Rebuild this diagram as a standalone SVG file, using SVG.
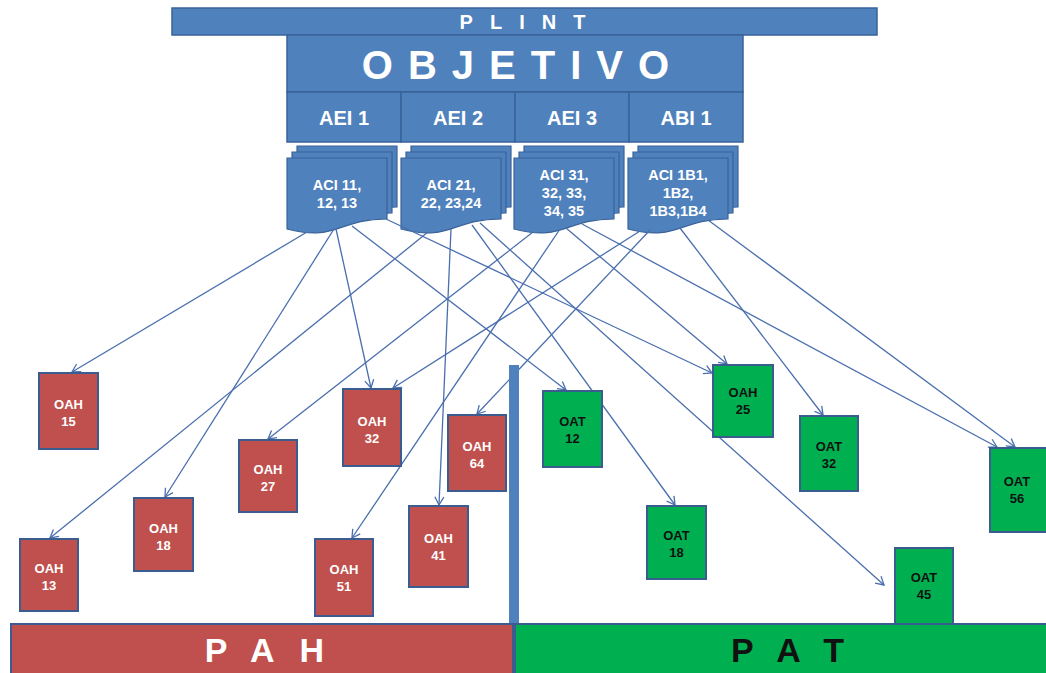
<svg xmlns="http://www.w3.org/2000/svg" width="1046" height="673" viewBox="0 0 1046 673">
<defs>
<style>
.hdr{fill:#4F81BD;stroke:#3A6399;stroke-width:1.5}
.doc{fill:#4F81BD;stroke:#3A6399;stroke-width:1.2}
.wt{font-family:"Liberation Sans",Arial,sans-serif;font-weight:bold;fill:#FFFFFF;text-anchor:middle}
.bk{font-family:"Liberation Sans",Arial,sans-serif;font-weight:bold;fill:#111111;text-anchor:middle}
.red{fill:#C0504D;stroke:#3B5C8E;stroke-width:2}
.grn{fill:#00B050;stroke:#3B5C8E;stroke-width:2}
.lbl{font-size:13px}
.doct{font-size:14.5px}
.con line{stroke:#4A6FAE;stroke-width:1.3;marker-end:url(#ah)}
</style>
<marker id="ah" markerWidth="12" markerHeight="12" refX="0" refY="0" orient="auto" markerUnits="userSpaceOnUse" viewBox="-10 -6 12 12">
<path d="M-8,-4.5 L0,0 L-8,4.5" fill="none" stroke="#4A6FAE" stroke-width="1.3"/>
</marker>
<path id="docshape" d="M0,0 H100 V61 C50,61 50,84 0,71 Z"/>
</defs>

<g id="plint">
<rect class="hdr" x="172" y="8" width="705" height="27"/>
<text class="wt" x="531" y="29" font-size="20" letter-spacing="17">PLINT</text>
</g>
<g id="objetivo">
<rect class="hdr" x="287" y="35" width="456" height="57"/>
<text class="wt" x="523" y="79" font-size="40" letter-spacing="15">OBJETIVO</text>
</g>
<g id="aei1"><rect class="hdr" x="287" y="92" width="114" height="50"/><text class="wt" x="344" y="125" font-size="20">AEI 1</text></g>
<g id="aei2"><rect class="hdr" x="401" y="92" width="114" height="50"/><text class="wt" x="458" y="125" font-size="20">AEI 2</text></g>
<g id="aei3"><rect class="hdr" x="515" y="92" width="114" height="50"/><text class="wt" x="572" y="125" font-size="20">AEI 3</text></g>
<g id="abi1"><rect class="hdr" x="629" y="92" width="114" height="50"/><text class="wt" x="686" y="125" font-size="20">ABI 1</text></g>

<g id="aci1">
<use href="#docshape" class="doc" x="297" y="146"/>
<use href="#docshape" class="doc" x="292" y="152"/>
<use href="#docshape" class="doc" x="287" y="158"/>
<text class="wt doct" x="337" y="190">ACI 11,</text>
<text class="wt doct" x="337" y="208">12, 13</text>
</g>
<g id="aci2">
<use href="#docshape" class="doc" x="411" y="146"/>
<use href="#docshape" class="doc" x="406" y="152"/>
<use href="#docshape" class="doc" x="401" y="158"/>
<text class="wt doct" x="451" y="190">ACI 21,</text>
<text class="wt doct" x="451" y="208">22, 23,24</text>
</g>
<g id="aci3">
<use href="#docshape" class="doc" x="524" y="146"/>
<use href="#docshape" class="doc" x="519" y="152"/>
<use href="#docshape" class="doc" x="514" y="158"/>
<text class="wt doct" x="564" y="180">ACI 31,</text>
<text class="wt doct" x="564" y="198">32, 33,</text>
<text class="wt doct" x="564" y="216">34, 35</text>
</g>
<g id="aci4">
<use href="#docshape" class="doc" x="638" y="146"/>
<use href="#docshape" class="doc" x="633" y="152"/>
<use href="#docshape" class="doc" x="628" y="158"/>
<text class="wt doct" x="678" y="180">ACI 1B1,</text>
<text class="wt doct" x="678" y="198">1B2,</text>
<text class="wt doct" x="678" y="216">1B3,1B4</text>
</g>

<g id="connectors" class="con">
<line x1="307" y1="232" x2="72" y2="372"/>
<line x1="334" y1="229" x2="165" y2="497"/>
<line x1="336" y1="229" x2="371" y2="388"/>
<line x1="352" y1="226" x2="566" y2="390"/>
<line x1="386" y1="219" x2="712" y2="373"/>
<line x1="428" y1="232" x2="50" y2="538"/>
<line x1="451" y1="229" x2="439" y2="505"/>
<line x1="472" y1="225" x2="675" y2="505"/>
<line x1="480" y1="223" x2="884" y2="585"/>
<line x1="533" y1="232" x2="268" y2="439"/>
<line x1="560" y1="229" x2="352" y2="538"/>
<line x1="566" y1="228" x2="727" y2="364"/>
<line x1="582" y1="224" x2="997" y2="447"/>
<line x1="640" y1="231" x2="393" y2="388"/>
<line x1="650" y1="230" x2="477" y2="414"/>
<line x1="680" y1="228" x2="823" y2="415"/>
<line x1="708" y1="220" x2="1015" y2="447"/>
</g>

<g id="oah15"><rect class="red" x="39" y="373" width="59" height="76"/><text class="wt lbl" x="68.5" y="409">OAH</text><text class="wt lbl" x="68.5" y="426">15</text></g>
<g id="oah13"><rect class="red" x="20" y="539" width="58" height="72"/><text class="wt lbl" x="49" y="573">OAH</text><text class="wt lbl" x="49" y="590">13</text></g>
<g id="oah18"><rect class="red" x="134" y="498" width="59" height="73"/><text class="wt lbl" x="163.5" y="533">OAH</text><text class="wt lbl" x="163.5" y="550">18</text></g>
<g id="oah27"><rect class="red" x="239" y="440" width="58" height="72"/><text class="wt lbl" x="268" y="474">OAH</text><text class="wt lbl" x="268" y="491">27</text></g>
<g id="oah32"><rect class="red" x="343" y="389" width="58" height="77"/><text class="wt lbl" x="372" y="426">OAH</text><text class="wt lbl" x="372" y="443">32</text></g>
<g id="oah64"><rect class="red" x="448" y="415" width="58" height="76"/><text class="wt lbl" x="477" y="451">OAH</text><text class="wt lbl" x="477" y="468">64</text></g>
<g id="oah41"><rect class="red" x="409" y="506" width="59" height="81"/><text class="wt lbl" x="438.5" y="543">OAH</text><text class="wt lbl" x="438.5" y="560">41</text></g>
<g id="oah51"><rect class="red" x="315" y="539" width="58" height="77"/><text class="wt lbl" x="344" y="574">OAH</text><text class="wt lbl" x="344" y="591">51</text></g>

<g id="oat12"><rect class="grn" x="543" y="391" width="59" height="76"/><text class="bk lbl" x="572.5" y="426">OAT</text><text class="bk lbl" x="572.5" y="443">12</text></g>
<g id="oah25"><rect class="grn" x="713" y="365" width="60" height="72"/><text class="bk lbl" x="743" y="397">OAH</text><text class="bk lbl" x="743" y="414">25</text></g>
<g id="oat32"><rect class="grn" x="800" y="416" width="58" height="75"/><text class="bk lbl" x="829" y="451">OAT</text><text class="bk lbl" x="829" y="468">32</text></g>
<g id="oat56"><rect class="grn" x="990" y="448" width="58" height="84"/><text class="bk lbl" x="1017" y="486">OAT</text><text class="bk lbl" x="1017" y="503">56</text></g>
<g id="oat18"><rect class="grn" x="647" y="506" width="59" height="73"/><text class="bk lbl" x="676.5" y="540">OAT</text><text class="bk lbl" x="676.5" y="557">18</text></g>
<g id="oat45"><rect class="grn" x="895" y="548" width="58" height="77"/><text class="bk lbl" x="924" y="582">OAT</text><text class="bk lbl" x="924" y="599">45</text></g>

<g id="divider"><rect x="509" y="365" width="10" height="260" fill="#4F81BD"/></g>
<g id="pah"><rect class="red" x="11" y="624" width="502" height="52"/><text class="wt" x="277" y="662" font-size="34" letter-spacing="25">PAH</text></g>
<g id="pat"><rect class="grn" x="515" y="624" width="533" height="52"/><text class="bk" x="800" y="662" font-size="34" letter-spacing="25">PAT</text></g>
</svg>
